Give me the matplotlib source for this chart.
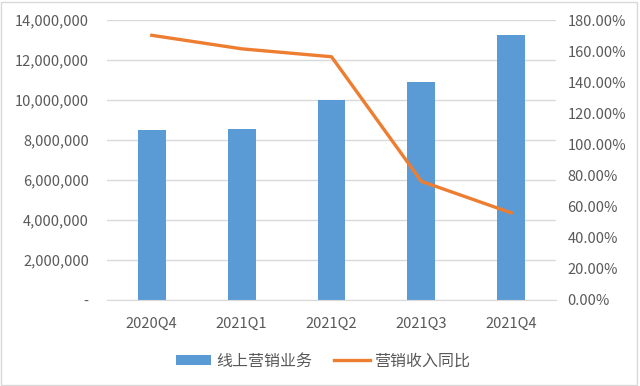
import matplotlib.pyplot as plt
import matplotlib.ticker as mtick
from matplotlib.patches import Rectangle
import numpy as np

plt.rcParams['font.family'] = ['Noto Sans CJK SC', 'DejaVu Sans']

quarters = ['2020Q4', '2021Q1', '2021Q2', '2021Q3', '2021Q4']
online_marketing = [8500000, 8550000, 10000000, 10920000, 13240000]
yoy_growth = [170.2, 161.5, 156.4, 76.3, 56.0]

bar_color = '#5B9BD5'
line_color = '#ED7D31'
text_color = '#595959'

fig = plt.figure(figsize=(6.4, 3.86), dpi=100)
ax1 = fig.add_axes([0.167, 0.223, 0.702, 0.725])
ax2 = ax1.twinx()

x = np.arange(len(quarters))
ax1.bar(x, online_marketing, width=0.31, color=bar_color, label='线上营销业务', zorder=2)
ax2.plot(x, yoy_growth, color=line_color, linewidth=2.4, label='营销收入同比',
         solid_joinstyle='round', zorder=3)

ax1.set_xlim(-0.5, 4.5)
ax1.set_ylim(0, 14000000)
ax2.set_ylim(0, 180)
ax1.set_yticks(np.arange(0, 14000001, 2000000))
ax2.set_yticks(np.arange(0, 181, 20))

def left_fmt(v, pos):
    return '-' if v == 0 else '{:,.0f}'.format(v)

ax1.yaxis.set_major_formatter(mtick.FuncFormatter(left_fmt))
ax2.yaxis.set_major_formatter(mtick.FuncFormatter(lambda v, pos: '{:.2f}%'.format(v)))

ax1.set_xticks(x)
ax1.set_xticklabels(quarters)

ax1.grid(axis='y', color='#D9D9D9', linewidth=1, zorder=0)
ax1.set_axisbelow(True)
for ax in (ax1, ax2):
    for s in ax.spines.values():
        s.set_visible(False)
    ax.tick_params(length=0, labelsize=10.5, colors=text_color)
ax1.spines['bottom'].set_visible(True)
ax1.spines['bottom'].set_color('#D9D9D9')
ax1.tick_params(axis='y', pad=13)
ax1.tick_params(axis='x', pad=12)
ax2.tick_params(axis='y', pad=8)

h1, l1 = ax1.get_legend_handles_labels()
h2, l2 = ax2.get_legend_handles_labels()
leg = fig.legend(h1 + h2, l1 + l2, loc='center', bbox_to_anchor=(0.505, 0.065),
                 ncol=2, frameon=False, fontsize=11.5, handlelength=2.2,
                 handleheight=0.6, columnspacing=1.4, handletextpad=0.3)
for t in leg.get_texts():
    t.set_color(text_color)

fig.patches.append(Rectangle((0.002, 0.003), 0.993, 0.992, transform=fig.transFigure,
                             fill=False, edgecolor='#D9D9D9', linewidth=1))

fig.savefig('out.png', dpi=100)
